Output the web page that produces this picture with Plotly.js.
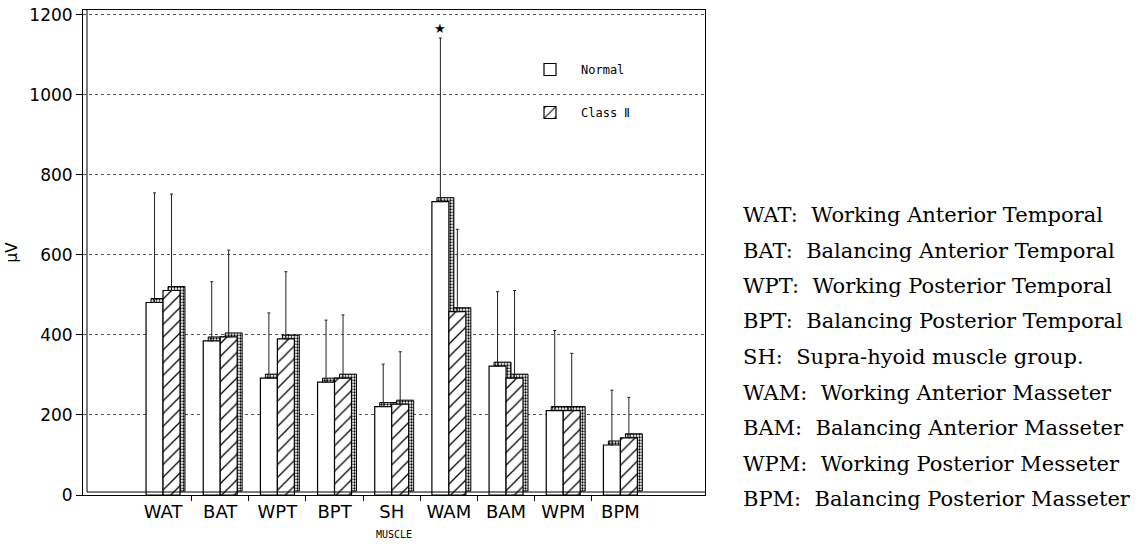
<!DOCTYPE html>
<html>
<head>
<meta charset="utf-8">
<script src="https://cdn.plot.ly/plotly-3.0.1.min.js"></script>
<style>html,body{margin:0;padding:0;background:#fff;}#chart{width:1138px;height:547px;}</style>
</head>
<body>
<div id="chart"></div>
<script>
// ---- data ----
const categories = ['WAT', 'BAT', 'WPT', 'BPT', 'SH', 'WAM', 'BAM', 'WPM', 'BPM'];
const descriptions = [
  'Working Anterior Temporal',
  'Balancing Anterior Temporal',
  'Working Posterior Temporal',
  'Balancing Posterior Temporal',
  'Supra-hyoid muscle group.',
  'Working Anterior Masseter',
  'Balancing Anterior Masseter',
  'Working Posterior Messeter',
  'Balancing Posterior Masseter'
];
const normalValues  = [481, 385, 292, 282, 221, 733, 322, 211, 125];
const classIIValues = [511, 395, 390, 292, 227, 458, 292, 211, 143];
const normalErrUp   = [274, 148, 163, 155, 106, 409, 186, 200, 137];
const classIIErrUp  = [241, 217, 168, 158, 131, 206, 219, 143, 101];
const seriesNames = ['Normal', 'Class \u2161'];
const starCategory = 'WAM';
const yTicks = [0, 200, 400, 600, 800, 1000, 1200];

// ---- layout constants ----
const idx = categories.map((_, i) => i);
const W = 0.297;      // bar width (category units)
const DX = 0.087;     // 3D depth, x
const DY = 10;        // 3D depth, y (data units)
const ZEROS = categories.map(() => 0);
const base3d = categories.map(() => DY);

const shadowStyle = {
  color: '#ffffff',
  line: {color: '#000', width: 1},
  pattern: {shape: '.', fgcolor: '#000', bgcolor: '#fff', size: 3, solidity: 0.45}
};

const traces = [
  {type: 'bar', x: idx, y: normalValues, base: base3d, width: W, offset: -W + DX,
   marker: shadowStyle, showlegend: false, hoverinfo: 'skip'},
  {type: 'bar', x: idx, y: classIIValues, base: base3d, width: W, offset: DX,
   marker: shadowStyle, showlegend: false, hoverinfo: 'skip'},
  {type: 'bar', name: seriesNames[0], legendgroup: 'n', x: idx, y: normalValues, width: W, offset: -W,
   marker: {color: '#fff', line: {color: '#000', width: 1.2}},
   error_y: {type: 'data', symmetric: false, array: normalErrUp, arrayminus: ZEROS,
             color: '#222', thickness: 1, width: 1.5}},
  {type: 'bar', name: seriesNames[1], legendgroup: 'c', x: idx, y: classIIValues, width: W, offset: 0,
   marker: {color: '#fff', line: {color: '#000', width: 1.2},
            pattern: {shape: '/', fgcolor: '#000', bgcolor: '#fff', size: 9, solidity: 0.14}},
   error_y: {type: 'data', symmetric: false, array: classIIErrUp, arrayminus: ZEROS,
             color: '#222', thickness: 1, width: 1.5}}
];

const plotTop = 10, plotBottom = 495, plotH = plotBottom - plotTop, plotL = 83, plotR = 705;
const annotations = [];
categories.forEach((c, i) => {
  annotations.push({
    xref: 'paper', yref: 'paper',
    x: (741 - plotL) / (plotR - plotL),
    y: (plotBottom - (215 + i * 35.5)) / plotH,
    xanchor: 'left', yanchor: 'middle', showarrow: false,
    text: c + ':\u00a0\u00a0' + descriptions[i],
    font: {family: 'DejaVu Serif', size: 21, color: '#000'}
  });
});
const si = categories.indexOf(starCategory);
annotations.push({
  x: si - W / 2, y: normalValues[si] + normalErrUp[si], xref: 'x', yref: 'y',
  yanchor: 'bottom', showarrow: false, text: '\u2605',
  font: {family: 'DejaVu Sans', size: 13, color: '#000'}
});

const layout = {
  width: 1138, height: 547,
  margin: {l: plotL, r: 1138 - plotR, t: plotTop, b: 547 - plotBottom},
  paper_bgcolor: '#fff', plot_bgcolor: '#fff',
  barmode: 'overlay',
  showlegend: true,
  legend: {x: (519 - plotL) / (plotR - plotL), y: (plotBottom - 55) / plotH, xanchor: 'left', yanchor: 'top',
           bgcolor: 'rgba(0,0,0,0)', font: {family: 'DejaVu Sans Mono', size: 12, color: '#000'},
           traceorder: 'grouped', tracegroupgap: 24, itemwidth: 52},
  xaxis: {
    range: [-1.4, 9.48], tickmode: 'array', tickvals: idx, ticktext: categories, ticks: '',
    showline: true, mirror: true, linecolor: '#000', linewidth: 1, showgrid: false, zeroline: false,
    tickfont: {family: 'DejaVu Sans', size: 18, color: '#000'},
    minor: {tickmode: 'array', tickvals: idx.slice(0, -1).map(i => i + 0.5), ticks: 'outside', ticklen: 5,
            tickcolor: '#000', showgrid: false},
    title: {text: 'MUSCLE', font: {family: 'DejaVu Sans Mono', size: 10, color: '#000'}, standoff: 10},
    automargin: false
  },
  yaxis: {
    range: [0, 1212], tickmode: 'array', tickvals: yTicks, ticks: 'outside', ticklen: 6, tickcolor: '#000',
    showline: true, mirror: true, linecolor: '#000', linewidth: 1, zeroline: false,
    showgrid: true, gridcolor: '#555', griddash: 'dot', gridwidth: 1,
    tickfont: {family: 'DejaVu Sans', size: 17, color: '#000'},
    title: {text: '\u03bcV', font: {family: 'DejaVu Sans', size: 15, color: '#000'}, standoff: 8},
    automargin: false
  },
  shapes: [
    {type: 'line', xref: 'paper', yref: 'paper', x0: 4 / (plotR - plotL), x1: 4 / (plotR - plotL), y0: 3 / plotH, y1: 1,
     line: {color: '#000', width: 1}},
    {type: 'line', xref: 'paper', yref: 'paper', x0: 4 / (plotR - plotL), x1: 1, y0: 3 / plotH, y1: 3 / plotH,
     line: {color: '#000', width: 1}}
  ],
  annotations: annotations
};

Plotly.newPlot('chart', traces, layout, {displayModeBar: false, staticPlot: true});
</script>
</body>
</html>
